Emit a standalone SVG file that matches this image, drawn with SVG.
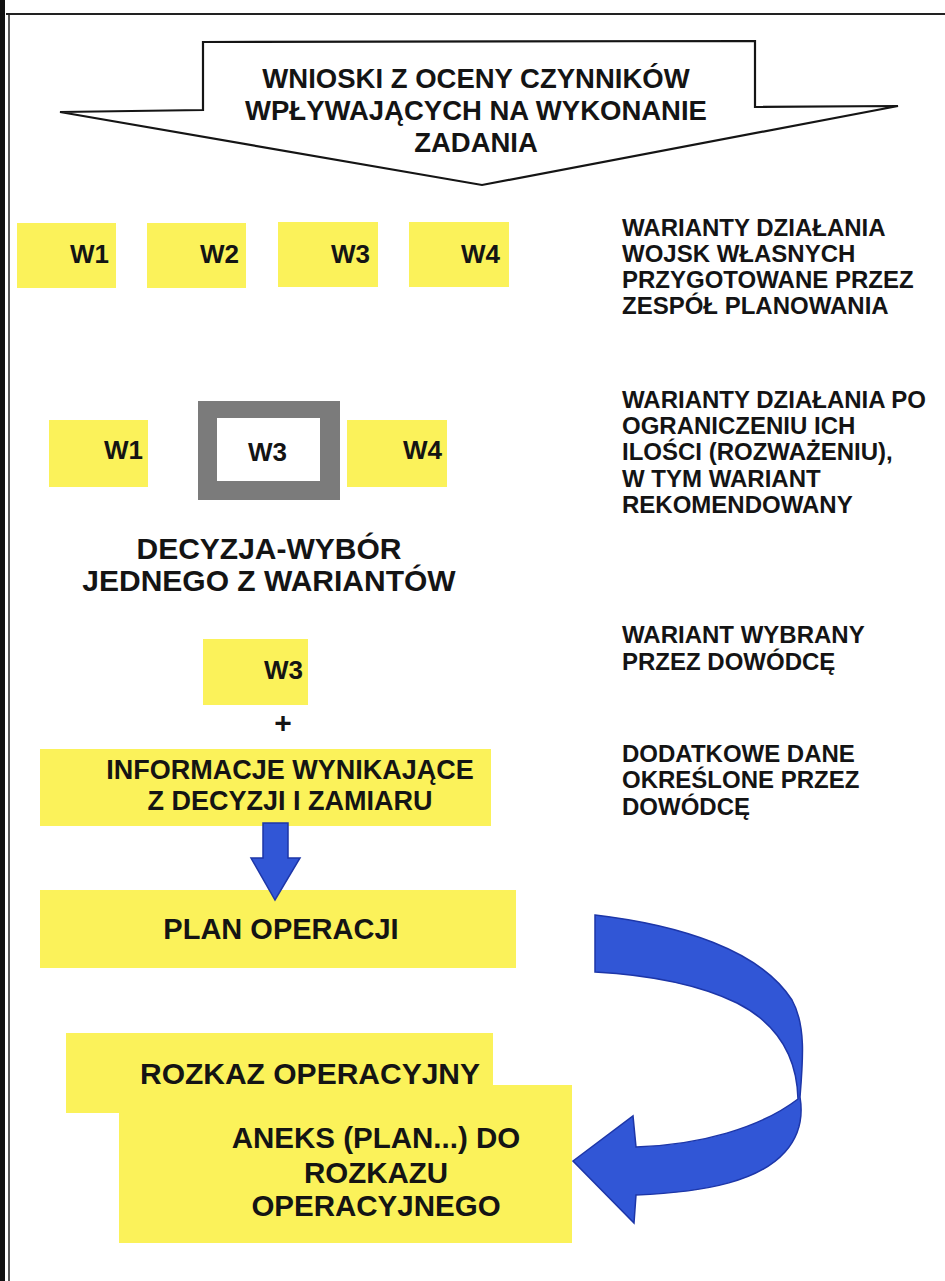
<svg xmlns="http://www.w3.org/2000/svg" width="945" height="1281" viewBox="0 0 945 1281">
<style>
.t{font-family:"Liberation Sans",Arial,sans-serif;font-weight:bold;fill:#141414}
.c{text-anchor:middle}
.y{fill:#fbf25a}
.blue{fill:#3156d6;stroke:#1d36a8;stroke-width:1.5}
</style>
<rect x="0" y="0" width="945" height="1281" fill="#ffffff"/>
<g id="frame">
<rect x="0" y="0" width="5" height="1281" fill="#111"/>
<line x1="9" y1="14" x2="9" y2="1281" stroke="#222" stroke-width="1.5"/>
<line x1="6" y1="14" x2="945" y2="14" stroke="#222" stroke-width="2"/>
</g>
<g id="header">
<polygon points="203,42 755,41 755,107 898,106 482,185 60,112 203,110" fill="#fff" stroke="#151515" stroke-width="2.2" stroke-linejoin="miter"/>
<text class="t c" x="476" y="88" font-size="27.5">WNIOSKI Z OCENY CZYNNIKÓW</text>
<text class="t c" x="476" y="120" font-size="27.5">WPŁYWAJĄCYCH NA WYKONANIE</text>
<text class="t c" x="476" y="152" font-size="27.5">ZADANIA</text>
</g>
<g id="w1a"><rect class="y" x="17" y="223" width="99" height="65"/><text class="t" x="70" y="263" font-size="26">W1</text></g>
<g id="w2a"><rect class="y" x="147" y="223" width="99" height="65"/><text class="t" x="200" y="263" font-size="26">W2</text></g>
<g id="w3a"><rect class="y" x="278" y="222" width="100" height="65"/><text class="t" x="331" y="263" font-size="26">W3</text></g>
<g id="w4a"><rect class="y" x="409" y="222" width="100" height="65"/><text class="t" x="461" y="263" font-size="26">W4</text></g>
<g id="w1b"><rect class="y" x="49" y="420" width="99" height="67"/><text class="t" x="104" y="459" font-size="26">W1</text></g>
<g id="w3b"><rect x="198" y="401" width="142" height="99" fill="#7b7b7b"/><rect x="217" y="418" width="103" height="63" fill="#fff"/><text class="t" x="248" y="461" font-size="26">W3</text></g>
<g id="w4b"><rect class="y" x="347" y="420" width="100" height="67"/><text class="t" x="403" y="459" font-size="26">W4</text></g>
<g id="decyzja">
<text class="t c" x="269" y="559" font-size="30">DECYZJA-WYBÓR</text>
<text class="t c" x="269" y="591" font-size="30">JEDNEGO Z WARIANTÓW</text>
</g>
<g id="w3c"><rect class="y" x="203" y="639" width="105" height="66"/><text class="t" x="264" y="679" font-size="26">W3</text></g>
<g id="plus"><text class="t c" x="283" y="733" font-size="30">+</text></g>
<g id="informacje"><rect class="y" x="40" y="749" width="451" height="77"/>
<text class="t c" x="290" y="779" font-size="27">INFORMACJE WYNIKAJĄCE</text>
<text class="t c" x="290" y="810" font-size="27">Z DECYZJI I ZAMIARU</text></g>
<g id="plan"><rect class="y" x="40" y="890" width="476" height="78"/>
<text class="t c" x="281" y="939" font-size="29">PLAN OPERACJI</text></g>
<g id="aneks"><rect class="y" x="119" y="1085" width="453" height="158"/>
<text class="t c" x="376" y="1148" font-size="29.5">ANEKS (PLAN...) DO</text>
<text class="t c" x="376" y="1183" font-size="29.5">ROZKAZU</text>
<text class="t c" x="376" y="1216" font-size="29.5">OPERACYJNEGO</text></g>
<g id="rozkaz"><rect class="y" x="66" y="1033" width="427" height="52"/><rect class="y" x="66" y="1085" width="53" height="28"/>
<text class="t c" x="310" y="1084" font-size="30">ROZKAZ OPERACYJNY</text></g>
<g id="connectors">
<polygon class="blue" points="263,823 288,823 288,858 300,858 275,900 251,858 263,858"/>
<path class="blue" d="M595,915 C680,925 760,950 792,1000 C806,1025 803,1060 800,1097 C803,1115 800,1135 785,1152 C760,1180 710,1192 636,1195 L634,1223 L573,1161 L633,1116 L636,1147 C700,1145 760,1128 798,1099 C797,1060 780,1025 737,1003 C700,985 650,975 595,972 Z"/>
</g>
<g id="notes">
<text class="t" x="622" y="236" font-size="24">WARIANTY DZIAŁANIA</text>
<text class="t" x="622" y="262" font-size="24">WOJSK WŁASNYCH</text>
<text class="t" x="622" y="288" font-size="24">PRZYGOTOWANE PRZEZ</text>
<text class="t" x="622" y="314" font-size="24">ZESPÓŁ PLANOWANIA</text>
<text class="t" x="622" y="408" font-size="24">WARIANTY DZIAŁANIA PO</text>
<text class="t" x="622" y="434" font-size="24">OGRANICZENIU ICH</text>
<text class="t" x="622" y="460" font-size="24">ILOŚCI (ROZWAŻENIU),</text>
<text class="t" x="622" y="487" font-size="24">W TYM WARIANT</text>
<text class="t" x="622" y="513" font-size="24">REKOMENDOWANY</text>
<text class="t" x="622" y="643" font-size="24">WARIANT WYBRANY</text>
<text class="t" x="622" y="670" font-size="24">PRZEZ DOWÓDCĘ</text>
<text class="t" x="622" y="762" font-size="24">DODATKOWE DANE</text>
<text class="t" x="622" y="788" font-size="24">OKREŚLONE PRZEZ</text>
<text class="t" x="622" y="815" font-size="24">DOWÓDCĘ</text>
</g>
</svg>
